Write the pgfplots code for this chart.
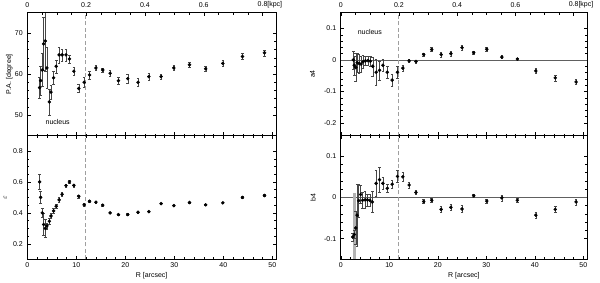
\documentclass[border=0pt]{standalone}
\usepackage{pgfplots}
\pgfplotsset{compat=1.18}
\usepackage{fontspec}
\setmainfont{Liberation Sans}

\pgfplotstableread{
R v e
2.52 56.7 2.6
2.72 58.4 3.6
3.06 61.0 4.0
3.33 67.4 6.5
3.67 68.1 7.5
4.00 61.5 5.0
4.50 53.2 3.2
4.83 55.6 1.8
5.37 59.1 1.5
5.90 61.9 1.6
6.50 64.7 2.0
7.10 64.7 1.5
7.90 64.7 1.5
8.60 63.7 1.0
9.50 60.7 1.0
10.50 56.5 1.0
11.60 58.0 1.2
12.70 59.8 1.0
14.00 61.5 0.6
15.40 61.0 0.5
16.90 60.2 0.8
18.60 58.4 0.8
20.50 58.9 1.0
22.60 58.0 1.0
24.80 59.4 0.8
27.30 59.4 0.6
29.90 61.5 0.6
33.10 62.3 0.7
36.40 61.3 0.6
39.90 62.6 0.7
43.90 64.3 0.7
48.40 65.2 0.7
}\PAtab

\pgfplotstableread{
R v e
2.52 0.600 0.048
2.72 0.500 0.04
3.06 0.400 0.03
3.33 0.325 0.07
3.67 0.300 0.06
4.00 0.316 0.02
4.50 0.346 0.02
4.83 0.380 0.015
5.37 0.413 0.015
5.90 0.443 0.012
6.50 0.484 0.015
7.10 0.520 0.015
7.90 0.576 0.01
8.60 0.600 0.01
9.50 0.578 0.01
10.50 0.507 0.01
11.60 0.452 0.01
12.70 0.475 0.006
14.00 0.469 0.005
15.40 0.450 0.005
16.90 0.400 0.005
18.60 0.389 0.005
20.50 0.389 0.006
22.60 0.404 0.006
24.80 0.408 0.005
27.30 0.460 0.005
29.90 0.447 0.005
33.10 0.467 0.005
36.40 0.452 0.005
39.90 0.465 0.005
43.90 0.500 0.006
48.40 0.512 0.006
}\EPStab

\pgfplotstableread{
R v e
2.6 0.000 0.028
2.8 -0.017 0.03
3.1 -0.024 0.045
3.4 -0.009 0.03
3.8 -0.011 0.03
4.2 -0.013 0.025
4.6 -0.006 0.02
5.1 -0.003 0.015
5.6 -0.002 0.015
6.1 -0.004 0.015
6.6 -0.020 0.03
7.3 -0.039 0.04
8.0 -0.033 0.03
8.7 -0.017 0.02
9.6 -0.039 0.02
10.6 -0.064 0.02
11.7 -0.039 0.02
12.8 -0.026 0.01
14.1 -0.003 0.005
15.5 -0.005 0.005
17.1 0.017 0.006
18.75 0.033 0.006
20.7 0.017 0.008
22.7 0.020 0.008
25.0 0.039 0.009
27.4 0.023 0.005
30.1 0.034 0.005
33.2 0.009 0.005
36.4 0.003 0.004
40.2 -0.035 0.008
44.2 -0.057 0.009
48.5 -0.070 0.008
}\AFtab

\pgfplotstableread{
R v e
2.47 -0.096 0.01
2.8 -0.090 0.01
3.1 -0.074 0.04
3.37 -0.043 0.075
3.7 -0.008 0.04
4.1 0.007 0.022
4.5 -0.007 0.02
5.0 -0.006 0.02
5.5 -0.006 0.015
6.0 -0.007 0.015
6.5 -0.011 0.025
7.3 0.034 0.032
8.0 0.043 0.03
8.7 0.034 0.015
9.6 0.022 0.01
10.6 0.032 0.01
11.7 0.051 0.015
12.8 0.050 0.01
14.1 0.030 0.007
15.5 0.012 0.005
17.1 -0.010 0.005
18.75 -0.007 0.005
20.7 -0.029 0.008
22.7 -0.024 0.008
25.0 -0.028 0.008
27.4 0.004 0.003
30.1 -0.009 0.004
33.2 -0.001 0.007
36.4 -0.007 0.005
40.2 -0.043 0.007
44.2 -0.029 0.007
48.5 -0.011 0.007
}\BFtab

\tikzset{fnt/.style={font=\fontsize{7}{8}\selectfont}}
\pgfplotsset{
  panel/.style={scale only axis, xmin=0, xmax=50.75, anchor=south west,
    tick align=inside, major tick length=3.5pt, minor tick length=2pt,
    tick style={black, line width=0.4pt}, axis line style={line width=0.6pt},
    xtick={0,10,...,50}, minor x tick num=4,
    ticklabel style={fnt}, label style={fnt},
    /pgf/number format/assume math mode=true,
    yticklabel style={xshift=-1pt},
    xlabel style={at={(axis description cs:0.5,0)}, anchor=center, yshift=-16.4pt},
  },
  kpc/.style={scale only axis, anchor=south west, xmin=0, xmax=0.84583, ymin=0, ymax=1,
    axis x line*=top, axis y line=none, tick align=inside,
    major tick length=3.5pt, minor tick length=2pt,
    tick style={black, line width=0.4pt}, axis line style={line width=0.6pt},
    xtick={0,0.2,0.4,0.6,0.8}, minor x tick num=3,
    xticklabels={0,0.2,0.4,0.6,0.8\rlap{[kpc]}},
    ticklabel style={fnt}, xticklabel style={yshift=1.5pt},
    /pgf/number format/assume math mode=true},
  dat/.style={only marks, mark=*, mark size=1.55pt, black,
    error bars/.cd, y dir=both, y explicit,
    error bar style={gray!55!black, line width=0.35pt},
    error mark options={rotate=90, mark size=1.3pt, gray!55!black, line width=0.35pt}},
  vdash/.style={gray!75, line width=0.45pt, dash pattern=on 4pt off 2.5pt},
  zline/.style={gray!75!black, line width=0.45pt},
}

\begin{document}
\begin{tikzpicture}[x=1pt,y=1pt]
\useasboundingbox (0,0) rectangle (600,282);

% ---------- left top: P.A.
\begin{axis}[panel, at={(27.3pt,146.5pt)}, width=248.7pt, height=122.8pt,
  ymin=45, ymax=75, ytick={50,60,70}, minor y tick num=4,
  xtick pos=bottom, xticklabels={},
  ylabel={P.A. [degree]},
  ylabel style={at={(axis description cs:-0.072,0.5)}, anchor=center}]
\addplot[vdash] coordinates {(11.8,45) (11.8,75)};
\addplot[dat] table[x=R, y=v, y error=e] {\PAtab};
\node[fnt] at (axis cs:6.2,48.4) {nucleus};
\end{axis}
\begin{axis}[kpc, at={(27.3pt,146.5pt)}, width=248.7pt, height=122.8pt]
\end{axis}

% ---------- left bottom: epsilon
\begin{axis}[panel, at={(27.3pt,22.7pt)}, width=248.7pt, height=123.8pt,
  ymin=0.1, ymax=0.9, ytick={0.2,0.4,0.6,0.8}, minor y tick num=3,
  yticklabel style={/pgf/number format/.cd, fixed, fixed zerofill, precision=1},
  xlabel={R [arcsec]}, ylabel={$\varepsilon$},
  ylabel style={at={(axis description cs:-0.088,0.5)}, anchor=center}]
\addplot[vdash] coordinates {(11.8,0.1) (11.8,0.9)};
\addplot[dat] table[x=R, y=v, y error=e] {\EPStab};
\end{axis}

% ---------- right top: a4
\begin{axis}[panel, at={(340.7pt,146.5pt)}, width=246.3pt, height=122.8pt,
  ymin=-0.24, ymax=0.15, ytick={-0.2,-0.1,0,0.1}, minor y tick num=4,
  xtick pos=bottom, xticklabels={},
  ylabel={a4},
  ylabel style={at={(axis description cs:-0.114,0.5)}, anchor=center}]
\addplot[zline] coordinates {(0,0) (50.75,0)};
\addplot[vdash] coordinates {(11.9,-0.24) (11.9,0.15)};
\addplot[dat] table[x=R, y=v, y error=e] {\AFtab};
\node[fnt] at (axis cs:6.0,0.0885) {nucleus};
\end{axis}
\begin{axis}[kpc, at={(340.7pt,146.5pt)}, width=246.3pt, height=122.8pt]
\end{axis}

% ---------- right bottom: b4
\begin{axis}[panel, at={(340.7pt,22.7pt)}, width=246.3pt, height=123.8pt,
  ymin=-0.15, ymax=0.15, ytick={-0.1,0,0.1}, minor y tick num=4,
  xlabel={R [arcsec]}, ylabel={b4},
  ylabel style={at={(axis description cs:-0.112,0.5)}, anchor=center}]
\addplot[zline] coordinates {(0,0) (50.75,0)};
\addplot[vdash] coordinates {(11.9,-0.15) (11.9,0.15)};
\addplot[fill=gray!60, draw=none] coordinates {(2.47,-0.15) (3.12,-0.15) (3.12,0.011) (2.47,0.011)} -- cycle;
\addplot[dat] table[x=R, y=v, y error=e] {\BFtab};
\end{axis}
\end{tikzpicture}
\end{document}
